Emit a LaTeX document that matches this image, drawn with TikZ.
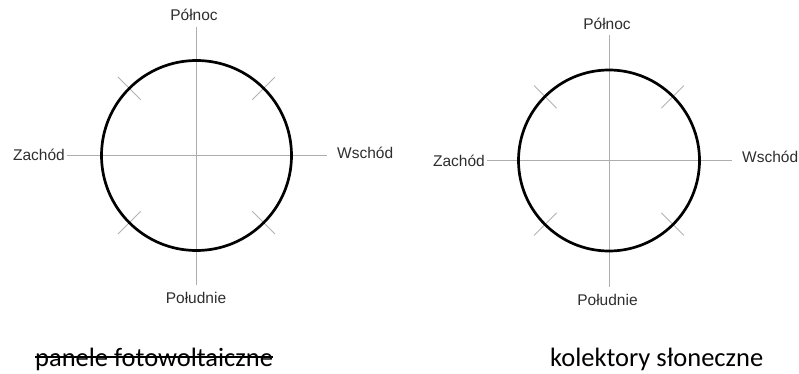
\documentclass[tikz,border=0pt]{standalone}
\usepackage{fontspec}
\usetikzlibrary{calc}
\setmainfont{Liberation Sans}
\newfontfamily\capfont{Carlito}
\tikzset{
  axisline/.style={draw=black!32, line width=0.9pt},
  tickline/.style={draw=black!30, line width=0.8pt},
  ring/.style={draw=black, line width=2.7pt},
  dirlabel/.style={inner sep=0pt, text=black!82, font=\fontsize{15.5}{18}\selectfont},
  caplabel/.style={inner sep=0pt, anchor=base west, font=\capfont\fontsize{26.5}{30}\selectfont}
}
\begin{document}
\begin{tikzpicture}[x=1pt,y=-1pt]
\useasboundingbox (0,0) rectangle (799,374);
% ---------- left compass ----------
\coordinate (L) at (196.5,155.5);
\coordinate (Ln) at (196.5,27);
\coordinate (Ls) at (196.5,285);
\coordinate (Lw) at (67,155.5);
\coordinate (Le) at (327,155.5);
\draw[axisline] (Ln) -- (Ls);
\draw[axisline] (Lw) -- (Le);
\foreach \a in {45,135,225,315}
  \draw[tickline] ($(L)+(\a:79)$) -- ($(L)+(\a:111)$);
\draw[ring] (L) circle[radius=95];
\node[dirlabel] (LN) at (194,15) {Północ};
\node[dirlabel, anchor=east] (LW) at (65,155) {Zachód};
\node[dirlabel, anchor=west] (LE) at (337,153) {Wschód};
\node[dirlabel] (LS) at (196,298) {Południe};
% ---------- right compass ----------
\coordinate (R) at (609,160.5);
\coordinate (Rn) at (609,35);
\coordinate (Rs) at (609,287);
\coordinate (Rw) at (487,160.5);
\coordinate (Re) at (732,160.5);
\draw[axisline] (Rn) -- (Rs);
\draw[axisline] (Rw) -- (Re);
\foreach \a in {45,135,225,315}
  \draw[tickline] ($(R)+(\a:74)$) -- ($(R)+(\a:106)$);
\draw[ring] (R) circle[radius=90.5];
\node[dirlabel] (RN) at (607,24) {Północ};
\node[dirlabel, anchor=east] (RW) at (485,161) {Zachód};
\node[dirlabel, anchor=west] (RE) at (742,157) {Wschód};
\node[dirlabel] (RS) at (607.5,300) {Południe};
% ---------- captions ----------
\node[caplabel] (PV) at (35,366) {panele fotowoltaiczne};
\draw[line width=1.8pt] ([yshift=9pt]PV.base west) -- ([yshift=9pt]PV.base east);
\node[caplabel] (KS) at (550,366) {kolektory słoneczne};
\end{tikzpicture}
\end{document}
